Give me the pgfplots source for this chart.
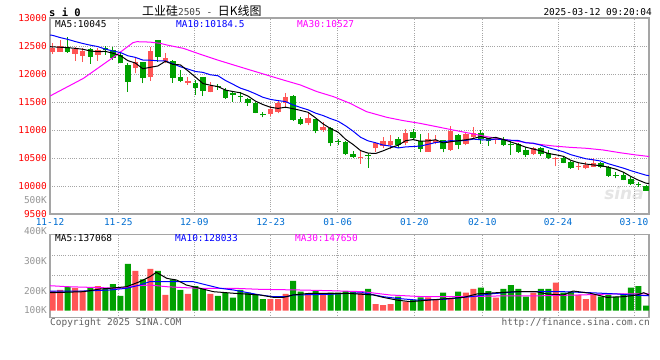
\documentclass[border=0pt]{standalone}
\usepackage{fontspec}
\usepackage{pgfplots}
\usepackage{pgfplotstable}
\pgfplotsset{compat=1.18}
\newfontfamily\mono{DejaVu Sans Mono}
\newfontfamily\cjk{Noto Sans CJK SC}
\newfontfamily\sinafont{DejaVu Sans}
\newcommand\lbl{\mono\fontsize{9.5}{10}\selectfont}
\definecolor{upred}{RGB}{255,85,85}
\definecolor{dngreen}{RGB}{0,160,0}
\definecolor{gridgray}{RGB}{165,165,165}
\definecolor{tickblue}{RGB}{0,110,210}
\definecolor{mafuchsia}{RGB}{255,0,255}
\definecolor{txtgray}{RGB}{95,95,95}
\definecolor{lblgray}{RGB}{150,150,150}

% i open high low close volume(K)
\pgfplotstableread{
i o h l c v
0 12400 12560 12360 12458 174
1 12400 12600 12395 12500 183
3 12360 12480 12240 12440 201
4 12327 12460 12220 12410 177
6 12345 12460 12240 12429 218
11 12101 12280 12010 12210 351
13 11952 12490 11880 12411 369
15 12238 12380 12190 12280 139
18 11845 11952 11804 11881 148
21 11685 11850 11672 11780 148
29 11280 11428 11250 11381 103
30 11327 11518 11298 11488 103
31 11476 11667 11387 11595 148
34 11119 11298 11089 11208 139
36 11000 11149 10970 11060 139
41 10505 10631 10393 10512 159
43 10673 10792 10613 10762 59
44 10714 10869 10673 10804 50
45 10732 10911 10655 10804 59
47 10768 11018 10732 10946 80
50 10613 10940 10613 10839 118
51 10774 10911 10744 10830 94
53 10643 11065 10631 10976 109
55 10750 10940 10732 10923 159
56 10869 11048 10851 10946 192
59 10815 10869 10750 10839 115
64 10571 10702 10560 10673 159
67 10485 10524 10357 10494 248
70 10345 10405 10286 10357 139
71 10316 10435 10298 10375 103
72 10345 10494 10345 10417 139
}\up

\pgfplotstableread{
i o h l c v
2 12476 12667 12381 12400 212
5 12446 12470 12180 12310 207
7 12470 12500 12340 12430 192
8 12429 12490 12250 12280 236
9 12335 12370 12190 12195 130
10 12161 12202 11685 11863 413
12 12210 12220 11835 11923 277
14 12605 12610 12220 12310 351
16 12232 12250 11840 11935 277
17 11940 12070 11850 11881 183
19 11848 11893 11625 11755 218
20 11946 11952 11613 11700 198
22 11770 11815 11715 11760 130
23 11714 11745 11550 11570 159
24 11667 11690 11505 11625 115
25 11605 11673 11506 11585 183
26 11548 11580 11430 11490 159
27 11488 11506 11298 11310 139
28 11272 11327 11226 11262 103
32 11613 11625 11167 11180 263
33 11191 11226 11089 11107 168
35 11191 11200 10940 10988 174
37 11042 11060 10714 10762 159
38 10800 10833 10732 10790 159
39 10792 10800 10553 10571 174
40 10571 10631 10494 10524 168
42 10545 10583 10327 10538 192
46 10839 10880 10673 10730 124
48 10964 11018 10821 10860 94
49 10800 10928 10601 10655 118
52 10821 10830 10601 10655 159
54 10911 10935 10655 10740 168
57 10946 11000 10755 10836 204
58 10851 10866 10717 10798 174
60 10839 10869 10714 10732 192
61 10732 10809 10554 10726 227
62 10744 10762 10595 10613 192
63 10643 10690 10524 10554 124
65 10673 10702 10536 10571 192
66 10595 10643 10482 10494 192
68 10506 10536 10405 10417 159
69 10435 10447 10310 10316 168
73 10417 10435 10316 10345 124
74 10345 10357 10167 10185 139
75 10185 10256 10137 10178 124
76 10196 10256 10107 10107 148
77 10125 10167 10018 10030 204
78 10030 10077 9988 10018 218
79 10000 10010 9917 9917 44
}\dn

\pgfplotsset{
  sinaaxis/.style={
    scale only axis, width=599bp,
    xmin=-0.36, xmax=79.4,
    scaled ticks=false,
    axis line style={gridgray, line width=1.2bp},
    grid=major,
    major grid style={gridgray, line width=0.8bp, dash pattern=on 1bp off 1.2bp},
    tick style={draw=none},
    xtick={-0.36,8.73,18.85,29.03,37.95,48.15,57.2,67.3,77.4},
  },
  wick/.style={only marks, mark=*, mark size=0pt, mark options={draw=none,fill=none}, forget plot,
    error bars/.cd, y dir=plus, y explicit, error mark=none,
    error bar style={line width=1bp, #1}},
  body/.style={only marks, mark=*, mark size=0pt, mark options={draw=none,fill=none}, forget plot,
    error bars/.cd, y dir=plus, y explicit, error mark=none,
    error bar style={line width=5.5bp, #1}},
}

\begin{document}
\begin{tikzpicture}
\path[use as bounding box] (0,0) rectangle (660bp,360bp);
\fill[white] (0,0) rectangle (660bp,360bp);

% watermark
\node[anchor=center, text=black!10, font=\sinafont\bfseries\itshape\fontsize{17}{17}\selectfont] at (624bp,167bp) {sina};

% ---------- price panel ----------
\begin{axis}[sinaaxis, at={(50bp,146bp)}, anchor=south west, height=196bp,
  ymin=9500, ymax=13000,
  ytick={9500,10000,10500,11000,11500,12000,12500,13000},
  yticklabels={9500,10000,10500,11000,11500,12000,12500,13000},
  yticklabel style={font=\lbl, text=red, inner sep=0pt, xshift=-3bp},
  xticklabels={11-12,11-25,12-09,12-23,01-06,01-20,02-10,02-24,03-10},
  xticklabel style={font=\lbl, text=tickblue, inner sep=0pt, yshift=-4bp},
]
% wicks
\addplot[wick=upred] table[x=i, y=l, y error plus expr=\thisrow{h}-\thisrow{l}] {\up};
\addplot[wick=dngreen] table[x=i, y=l, y error plus expr=\thisrow{h}-\thisrow{l}] {\dn};
% bodies
\addplot[body=upred] table[x=i, y=o, y error plus expr={max(\thisrow{c}-\thisrow{o},18)}] {\up};
\addplot[body=dngreen] table[x=i, y=c, y error plus expr={max(\thisrow{o}-\thisrow{c},18)}] {\dn};
% MA30
\addplot[mafuchsia, line width=1bp] coordinates {
(-0.36,11607) (2.0,11774) (4.1,11923) (6.3,12131) (8.5,12339) (10.7,12560) (11.2,12577) (12.9,12570) (14.3,12548) (15.2,12518) (17.4,12458) (19.6,12355) (21.8,12256) (24.1,12161) (26.3,12071) (28.5,11982) (30.7,11893) (33.0,11803) (35.2,11685) (37.4,11595) (39.6,11476) (41.8,11327) (44.5,11226) (46.7,11167) (48.9,11119) (51.1,11060) (53.3,11000) (55.6,10940) (57.8,10881) (60.0,10833) (62.2,10792) (64.4,10750) (66.7,10714) (68.9,10690) (71.1,10673) (73.3,10643) (75.5,10595) (77.7,10554) (79.4,10527)};
% MA10
\addplot[blue, line width=1bp] coordinates {
(-0.36,12696) (0,12690) (1,12650) (2,12619) (3,12580) (4,12545) (5,12515) (6,12490) (7,12445) (8,12410) (9,12385) (10,12326) (11,12297) (12,12249) (13,12246) (14,12236) (15,12233) (16,12184) (17,12129) (18,12089) (19,12045) (20,12029) (21,11986) (22,11969) (23,11885) (24,11817) (25,11747) (26,11703) (27,11646) (28,11584) (29,11546) (30,11525) (31,11507) (32,11449) (33,11402) (34,11361) (35,11301) (36,11258) (37,11203) (38,11156) (39,11075) (40,10979) (41,10870) (42,10806) (43,10772) (44,10731) (45,10713) (46,10680) (47,10698) (48,10705) (49,10714) (50,10745) (51,10777) (52,10789) (53,10810) (54,10804) (55,10815) (56,10837) (57,10826) (58,10820) (59,10838) (60,10828) (61,10817) (62,10813) (63,10771) (64,10764) (65,10729) (66,10684) (67,10649) (68,10611) (69,10559) (70,10522) (71,10486) (72,10467) (73,10446) (74,10397) (75,10358) (76,10319) (77,10273) (78,10233) (79,10193) (79.4,10185)};
% MA5
\addplot[black, line width=1bp] coordinates {
(-0.36,12488) (0,12485) (1,12478) (2,12470) (3,12458) (4,12442) (5,12412) (6,12398) (7,12404) (8,12372) (9,12329) (10,12239) (11,12196) (12,12094) (13,12120) (14,12143) (15,12227) (16,12172) (17,12163) (18,12057) (19,11946) (20,11830) (21,11799) (22,11775) (23,11713) (24,11687) (25,11664) (26,11606) (27,11516) (28,11454) (29,11406) (30,11386) (31,11407) (32,11381) (33,11350) (34,11316) (35,11216) (36,11109) (37,11025) (38,10962) (39,10834) (40,10741) (41,10632) (42,10587) (43,10581) (44,10628) (45,10684) (46,10728) (47,10809) (48,10829) (49,10799) (50,10806) (51,10826) (52,10768) (53,10791) (54,10808) (55,10825) (56,10848) (57,10884) (58,10849) (59,10868) (60,10830) (61,10786) (62,10742) (63,10693) (64,10660) (65,10627) (66,10581) (67,10557) (68,10530) (69,10458) (70,10416) (71,10392) (72,10376) (73,10362) (74,10336) (75,10300) (76,10246) (77,10169) (78,10104) (79,10050) (79.4,10045)};
\end{axis}

% ---------- volume panel ----------
\begin{axis}[sinaaxis, at={(50bp,42.3bp)}, anchor=south west, height=83.4bp,
  ymin=-61.9, ymax=675.4,
  ytick={309.4,486}, yticklabels={}, xticklabels={},
]
\addplot[ybar, bar width=6bp, bar shift=0pt, fill=upred, draw=none] table[x=i, y=v] {\up};
\addplot[ybar, bar width=6bp, bar shift=0pt, fill=dngreen, draw=none] table[x=i, y=v] {\dn};
\addplot[mafuchsia, line width=1bp] coordinates {
(-0.36,221) (2.0,212) (6.3,204) (9.0,198) (10.7,218) (12.95,227) (15.2,212) (17.4,204) (19.6,198) (24.1,198) (27.6,189) (32.9,183) (36.9,177) (41.3,168) (44.9,139) (49.3,124) (54.7,124) (59.1,130) (63.6,130) (70.2,139) (74.6,148) (79.4,148)};
\addplot[blue, line width=1bp] coordinates {
(-0.36,174) (4.1,174) (7.6,183) (9.85,198) (11.6,227) (12.95,257) (16.5,257) (18.7,257) (20.5,227) (22.3,198) (24.1,183) (27.6,139) (29.4,124) (31.2,124) (32.0,139) (36.9,145) (41.3,159) (44.0,124) (45.8,109) (48.5,94) (52.0,100) (54.7,118) (56.5,130) (58.2,148) (61.8,168) (68.0,168) (71.6,159) (75.1,148) (76.9,139) (79.4,132)};
\addplot[black, line width=1bp] coordinates {
(-0.36,159) (4.1,168) (6.3,192) (7.6,198) (9.85,212) (11.6,257) (12.95,301) (13.8,339) (15.2,286) (16.5,271) (17.8,227) (19.6,198) (21.4,168) (24.1,154) (27.6,139) (29.4,118) (30.7,118) (32.0,139) (34.3,154) (36.9,154) (39.1,154) (42.7,139) (44.0,118) (45.8,94) (47.6,80) (50.2,94) (54.7,118) (56.5,148) (59.1,159) (61.8,168) (64.4,168) (65.8,148) (68.0,139) (69.3,174) (71.6,154) (73.8,118) (76.0,124) (77.8,139) (78.7,159) (79.4,139)};
\end{axis}

% ---------- texts ----------
\node[anchor=west, inner sep=0pt, font=\mono\bfseries\fontsize{10.5}{11}\selectfont] at (49bp,348bp) {s i 0};
\node[anchor=west, inner sep=0pt] at (142bp,349bp) {{\cjk\fontsize{12}{12}\selectfont 工业硅}{\lbl\color{black!75}2505 - }{\cjk\fontsize{12}{12}\selectfont 日K线图}};
\node[anchor=east, inner sep=0pt, font=\lbl] at (652bp,348bp) {2025-03-12 09:20:04};

\node[anchor=west, inner sep=0pt, font=\lbl, text=black] at (55bp,336bp) {MA5:10045};
\node[anchor=west, inner sep=0pt, font=\lbl, text=blue] at (176bp,336bp) {MA10:10184.5};
\node[anchor=west, inner sep=0pt, font=\lbl, text=mafuchsia] at (297bp,336bp) {MA30:10527};

\node[anchor=west, inner sep=0pt, font=\lbl, text=black] at (55bp,122bp) {MA5:137068};
\node[anchor=west, inner sep=0pt, font=\lbl, text=blue] at (175bp,122bp) {MA10:128033};
\node[anchor=west, inner sep=0pt, font=\lbl, text=mafuchsia] at (295bp,122bp) {MA30:147650};

\node[anchor=east, inner sep=0pt, font=\lbl, text=lblgray] at (47bp,160bp) {500K};
\node[anchor=east, inner sep=0pt, font=\lbl, text=lblgray] at (47bp,129.3bp) {400K};
\node[anchor=east, inner sep=0pt, font=\lbl, text=lblgray] at (47bp,99bp) {300K};
\node[anchor=east, inner sep=0pt, font=\lbl, text=lblgray] at (47bp,69.3bp) {200K};
\node[anchor=east, inner sep=0pt, font=\lbl, text=lblgray] at (47bp,50bp) {100K};

\node[anchor=west, inner sep=0pt, font=\lbl, text=txtgray] at (50bp,37bp) {Copyright 2025 SINA.COM};
\node[anchor=east, inner sep=0pt, font=\lbl, text=txtgray] at (650bp,37bp) {http://finance.sina.com.cn};
\end{tikzpicture}
\end{document}
